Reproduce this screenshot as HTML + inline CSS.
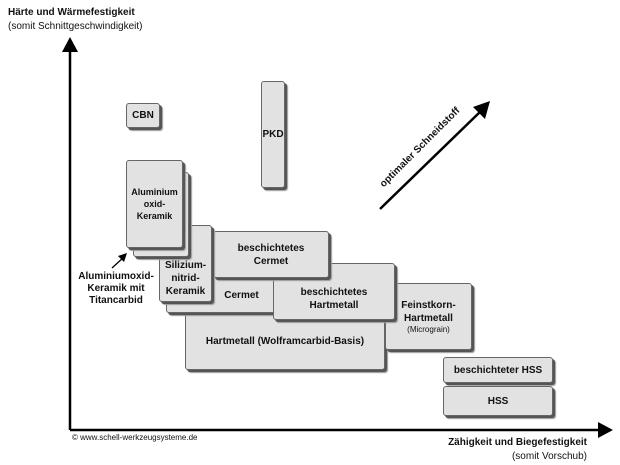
<!DOCTYPE html>
<html><head><meta charset="utf-8"><style>
body{margin:0;width:620px;height:465px;background:#fff;position:relative;overflow:hidden;font-family:"Liberation Sans",sans-serif;}
.b{position:absolute;box-sizing:border-box;background:#e2e2e2;border:1px solid #666;border-radius:3px;box-shadow:2px 2px 0 #555,3px 3px 1px #999;display:flex;align-items:center;justify-content:center;text-align:center;font-weight:bold;font-size:10px;line-height:13px;color:#111;}
.t{position:absolute;font-size:10px;color:#111;white-space:nowrap;}
</style></head><body>
<svg width="620" height="465" style="position:absolute;left:0;top:0">
<line x1="70" y1="50" x2="70" y2="430" stroke="#000" stroke-width="2.5"/>
<polygon points="62,52 78,52 70,37" fill="#000"/>
<line x1="70" y1="430" x2="600" y2="430" stroke="#000" stroke-width="2.5"/>
<polygon points="598,422 598,438 613,430" fill="#000"/>
<line x1="380" y1="209" x2="482" y2="110" stroke="#000" stroke-width="2.5"/>
<polygon points="473,107 485,119 490,101" fill="#000"/>
<line x1="112" y1="268" x2="124" y2="257" stroke="#000" stroke-width="1.3"/>
<polygon points="118,256 124,262 127,253" fill="#000"/>
</svg>
<div class="t" style="left:8px;top:7px;font-weight:bold">Härte und Wärmefestigkeit</div>
<div class="t" style="left:8px;top:21px">(somit Schnittgeschwindigkeit)</div>
<div class="t" style="left:378px;top:182px;font-weight:bold;transform:rotate(-45deg);transform-origin:0 0">optimaler Schneidstoff</div>
<div class="b" style="left:126px;top:103px;width:34px;height:25px">CBN</div>
<div class="b" style="left:261px;top:81px;width:24px;height:107px">PKD</div>
<div class="b" style="left:185px;top:312px;width:200px;height:58px">Hartmetall (Wolframcarbid-Basis)</div>
<div class="b" style="left:385px;top:283px;width:87px;height:67px;flex-direction:column">Feinstkorn-<br>Hartmetall<span style="font-weight:normal;font-size:8px;line-height:10px">(Micrograin)</span></div>
<div class="b" style="left:166px;top:240px;width:111px;height:73px;padding-left:40px;padding-top:38px">Cermet</div>
<div class="b" style="left:273px;top:263px;width:122px;height:57px;padding-top:14px">beschichtetes<br>Hartmetall</div>
<div class="b" style="left:213px;top:231px;width:116px;height:47px">beschichtetes<br>Cermet</div>
<div class="b" style="left:159px;top:225px;width:53px;height:77px;padding-top:30px">Silizium-<br>nitrid-<br>Keramik</div>
<div class="b" style="left:133px;top:172px;width:56px;height:85px"></div>
<div class="b" style="left:126px;top:160px;width:57px;height:88px;font-size:9px;line-height:12px">Aluminium<br>oxid-<br>Keramik</div>
<div class="t" style="left:78px;top:271px;width:76px;text-align:center;font-weight:bold;line-height:12px">Aluminiumoxid-<br>Keramik mit<br>Titancarbid</div>
<div class="b" style="left:443px;top:357px;width:110px;height:26px">beschichteter HSS</div>
<div class="b" style="left:443px;top:386px;width:110px;height:30px">HSS</div>
<div class="t" style="left:72px;top:433px;font-size:8px">© www.schell-werkzeugsysteme.de</div>
<div class="t" style="right:33px;top:437px;font-weight:bold">Zähigkeit und Biegefestigkeit</div>
<div class="t" style="right:33px;top:451px">(somit Vorschub)</div>
</body></html>
